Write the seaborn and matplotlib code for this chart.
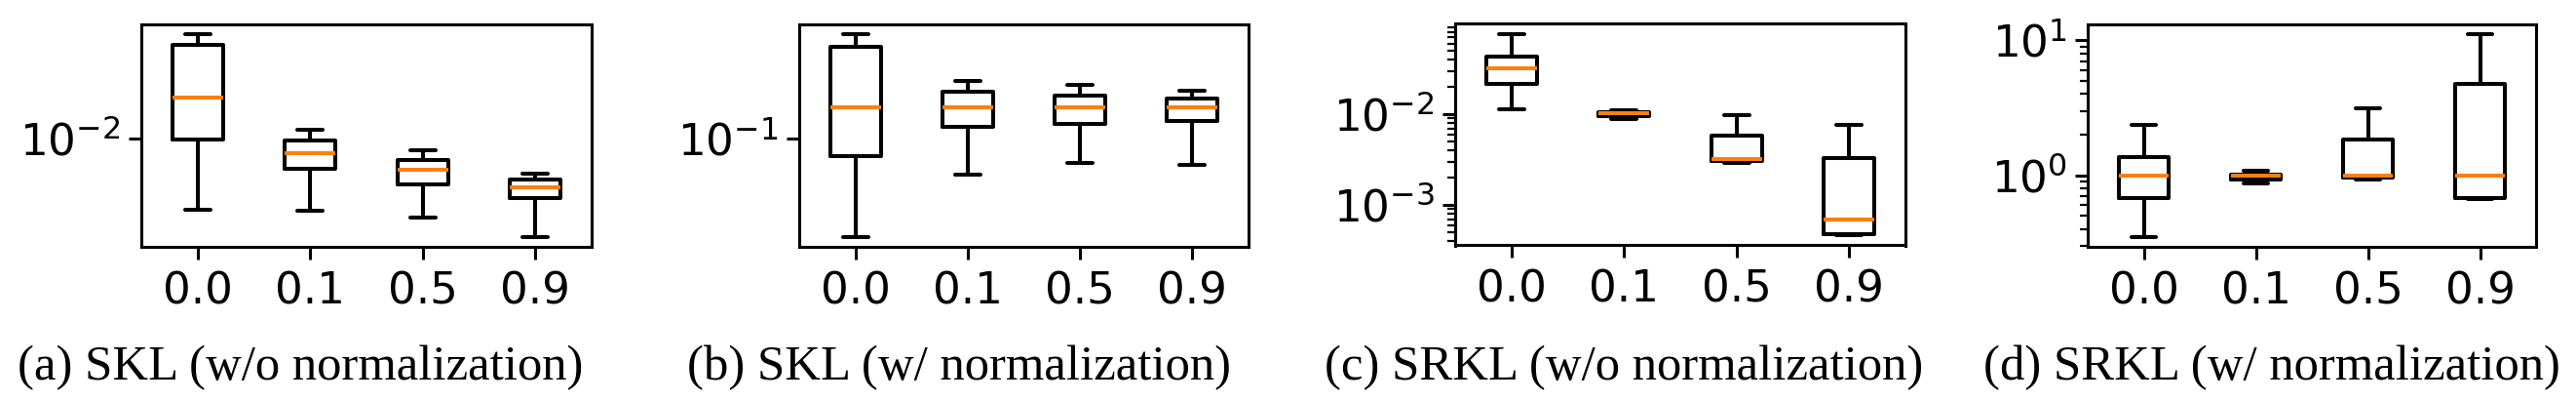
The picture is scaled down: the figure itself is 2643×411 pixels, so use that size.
import numpy as np
import pandas as pd
import matplotlib
matplotlib.use("Agg")
import matplotlib.pyplot as plt
import seaborn as sns
from matplotlib.ticker import NullLocator

# x categories (smoothing coefficient)
ALPHAS = ["0.0", "0.1", "0.5", "0.9"]

# five numbers per box: lower whisker, q1, median, q3, upper whisker
skl_no_norm = [
    [0.00432, 0.00992, 0.01616, 0.02996, 0.0340],
    [0.00427, 0.00698, 0.00841, 0.00977, 0.01105],
    [0.00394, 0.00584, 0.00694, 0.00782, 0.00874],
    [0.00316, 0.00497, 0.00564, 0.00619, 0.00666],
]
skl_norm = [
    [0.0317, 0.0819, 0.1445, 0.294, 0.340],
    [0.0655, 0.1157, 0.1445, 0.173, 0.198],
    [0.0750, 0.1193, 0.1445, 0.1654, 0.189],
    [0.0739, 0.1234, 0.1445, 0.1609, 0.1752],
]
srkl_no_norm = [
    [0.01123, 0.0215, 0.0321, 0.0435, 0.0766],
    [0.00884, 0.00964, 0.01017, 0.01063, 0.01104],
    [0.00290, 0.00307, 0.00320, 0.00582, 0.00983],
    [0.000464, 0.000480, 0.000700, 0.00333, 0.00768],
]
srkl_norm = [
    [0.350, 0.681, 1.0, 1.358, 2.37],
    [0.875, 0.935, 1.0, 1.017, 1.087],
    [0.935, 0.961, 1.0, 1.827, 3.14],
    [0.661, 0.681, 1.0, 4.79, 11.06],
]

CAPTIONS = [
    "(a) SKL (w/o normalization)",
    "(b) SKL (w/ normalization)",
    "(c) SRKL (w/o normalization)",
    "(d) SRKL (w/ normalization)",
]
PANELS = [skl_no_norm, skl_norm, srkl_no_norm, srkl_norm]

W, H = 2643, 411
# axes boxes in pixels: left, top, right, bottom
AX_PX = [
    (145, 25, 607, 253),
    (820, 25, 1281, 253),
    (1493, 24.5, 1955, 251.5),
    (2142, 25, 2602, 253),
]
CAPTION_X = [308, 984, 1666, 2331]
CAPTION_BASELINE = 389

sns.set_style("ticks", rc={
    "axes.edgecolor": "black",
    "xtick.color": "black",
    "ytick.color": "black",
    "text.color": "black",
})
plt.rcParams["font.family"] = ["DejaVu Sans"]
plt.rcParams.update({
    "axes.linewidth": 2.2,
    "xtick.major.size": 9.5,
    "ytick.major.size": 9.5,
    "xtick.major.width": 2.2,
    "ytick.major.width": 2.2,
    "ytick.minor.size": 5.8,
    "ytick.minor.width": 1.6,
    "xtick.major.pad": 8,
    "ytick.major.pad": 6,
    "xtick.labelsize": 32.5,
    "ytick.labelsize": 32.5,
})


def to_frame(boxes):
    rows = []
    for alpha, vals in zip(ALPHAS, boxes):
        for v in vals:
            rows.append({"alpha": alpha, "value": v})
    return pd.DataFrame(rows)


fig = plt.figure(figsize=(W / 100, H / 100), dpi=100)

for i, boxes in enumerate(PANELS):
    l, t, r, b = AX_PX[i]
    ax = fig.add_axes([l / W, (H - b) / H, (r - l) / W, (b - t) / H])
    sns.boxplot(
        data=to_frame(boxes), x="alpha", y="value", order=ALPHAS, ax=ax,
        log_scale=True, whis=(0, 100), width=0.45, fill=False,
        color="black", linewidth=2.9,
        medianprops={"color": "#ff7f0e", "linewidth": 2.9},
    )
    ax.set_xlabel("")
    ax.set_ylabel("")
    if i < 2:
        ax.yaxis.set_minor_locator(NullLocator())
    for side in ["top", "right", "left", "bottom"]:
        ax.spines[side].set_visible(True)

    fig.text(CAPTION_X[i] / W, (H - CAPTION_BASELINE) / H, CAPTIONS[i],
             ha="center", va="baseline", fontsize=36.5,
             family=["Liberation Serif", "DejaVu Serif"])

fig.savefig("out.png", dpi=100)
